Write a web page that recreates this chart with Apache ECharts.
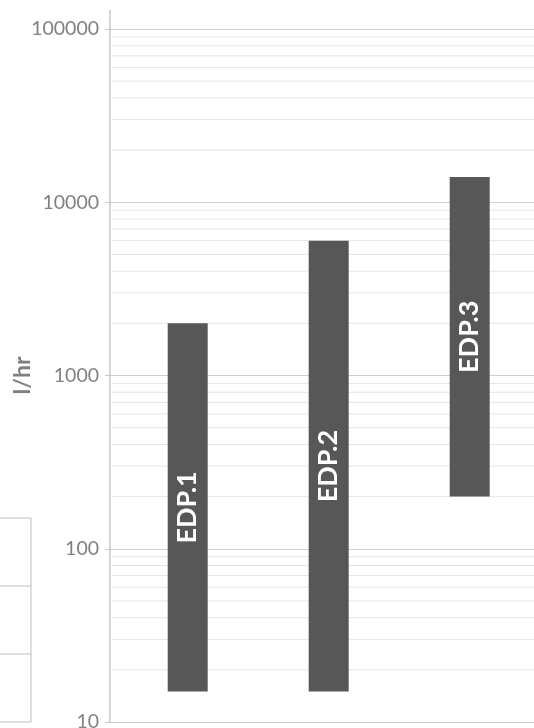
<!DOCTYPE html>
<html>
<head>
<meta charset="utf-8">
<script src="https://cdn.jsdelivr.net/npm/echarts@6/dist/echarts.min.js"></script>
<style>
html,body{margin:0;padding:0;background:#fff;}
#chart{width:534px;height:728px;}
</style>
</head>
<body>
<div id="chart"></div>
<script>
// ---- data ----
const categories = ['EDP.1', 'EDP.2', 'EDP.3'];
const xPositions = [1, 2, 3];
const lowValues = [15, 15, 200];
const highValues = [2000, 6000, 14000];
const yTicks = [10, 100, 1000, 10000, 100000];
const minorMultipliers = [2, 3, 4, 5, 6, 7, 8, 9];
const axisTitle = 'l/hr';

// minor gridline values (2..9 within each decade)
const minorValues = [];
yTicks.slice(0, -1).forEach(d => minorMultipliers.forEach(m => minorValues.push(d * m)));

const barData = categories.map((c, i) => [xPositions[i], lowValues[i], highValues[i], c]);

const chart = echarts.init(document.getElementById('chart'), null, {renderer: 'canvas'});
chart.setOption({
  animation: false,
  grid: {left: 110, right: 0, top: 29, bottom: 6, containLabel: false, outerBoundsMode: 'none'},
  xAxis: {
    type: 'value', min: 0.449, max: 3.456,
    axisLine: {show: true, lineStyle: {color: '#c8c8c8', width: 1}},
    axisTick: {show: false}, axisLabel: {show: false}, splitLine: {show: false}
  },
  yAxis: {
    type: 'log', logBase: 10, min: yTicks[0], max: yTicks[yTicks.length - 1],
    name: axisTitle, nameLocation: 'middle', nameGap: 76, nameRotate: 90, nameMoveOverlap: false,
    nameTextStyle: {color: '#7f7f7f', fontFamily: 'Lato', fontWeight: 'bold', fontSize: 23},
    axisLine: {show: true, lineStyle: {color: '#c8c8c8', width: 1.5}},
    axisTick: {show: true, length: 5, lineStyle: {color: '#c8c8c8'}},
    axisLabel: {color: '#808080', fontFamily: 'Lato', fontSize: 19.5, margin: 11,
      formatter: v => String(Math.round(v))},
    splitLine: {show: true, lineStyle: {color: '#cfcfcf', width: 1}}
  },
  graphic: [
    {type: 'line', shape: {x1: 110, y1: 10, x2: 110, y2: 29}, style: {stroke: '#c8c8c8', lineWidth: 1.5}},
    {type: 'rect', shape: {x: -2, y: 518, width: 33, height: 204}, style: {fill: 'none', stroke: '#bfbfbf', lineWidth: 1}},
    {type: 'line', shape: {x1: 0, y1: 586, x2: 31, y2: 586}, style: {stroke: '#bfbfbf', lineWidth: 1}},
    {type: 'line', shape: {x1: 0, y1: 654, x2: 31, y2: 654}, style: {stroke: '#bfbfbf', lineWidth: 1}}
  ],
  series: [
    {
      type: 'custom', silent: true, z: 1,
      data: minorValues.map(v => [1, v]),
      encode: {x: 0, y: 1},
      renderItem: function (params, api) {
        const p = api.coord([api.value(0), api.value(1)]);
        const cs = params.coordSys;
        return {type: 'line', shape: {x1: cs.x, y1: p[1], x2: cs.x + cs.width, y2: p[1]},
          style: {stroke: '#e4e4e4', lineWidth: 1}};
      }
    },
    {
      type: 'custom', z: 3,
      data: barData,
      encode: {x: 0, y: [1, 2]},
      renderItem: function (params, api) {
        const x = api.value(0);
        const top = api.coord([x, api.value(2)]);
        const bot = api.coord([x, api.value(1)]);
        const w = 40;
        const name = categories[params.dataIndex];
        return {
          type: 'group',
          children: [
            {type: 'rect', shape: {x: top[0] - w / 2, y: top[1], width: w, height: bot[1] - top[1]},
              style: {fill: '#575757'}},
            {type: 'text', x: top[0], y: (top[1] + bot[1]) / 2, rotation: Math.PI / 2,
              style: {text: name, fill: '#ffffff', fontFamily: 'Lato', fontWeight: 'bold',
                fontSize: 27, align: 'center', verticalAlign: 'middle'}}
          ]
        };
      }
    }
  ]
});
</script>
</body>
</html>
